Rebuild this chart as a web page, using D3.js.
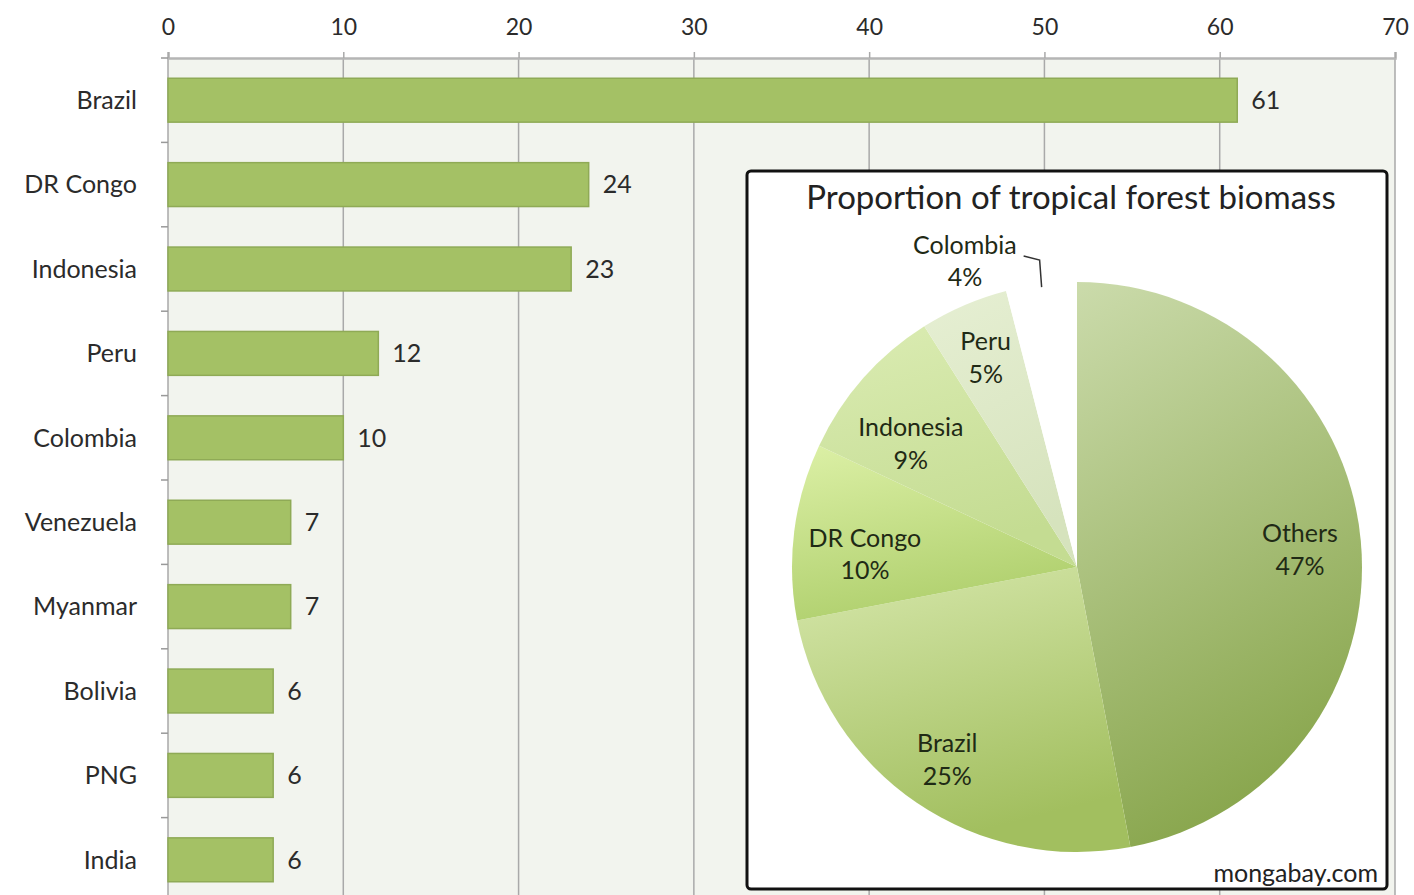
<!DOCTYPE html>
<html>
<head>
<meta charset="utf-8">
<script src="https://cdn.jsdelivr.net/npm/d3@7"></script>
<style>
  body { margin: 0; background: #fff; }
  text { font-family: Lato, "Open Sans", sans-serif; }
</style>
</head>
<body>
<svg id="chart"></svg>
<script>
// Bar data: tropical forest biomass by country
const countries = ['Brazil', 'DR Congo', 'Indonesia', 'Peru', 'Colombia', 'Venezuela', 'Myanmar', 'Bolivia', 'PNG', 'India'];
const biomass = [61, 24, 23, 12, 10, 7, 7, 6, 6, 6];
const xTicks = [0, 10, 20, 30, 40, 50, 60, 70];

// Pie data: share of tropical forest biomass
const pieLabels = ['Others', 'Brazil', 'DR Congo', 'Indonesia', 'Peru', 'Colombia'];
const pieShares = [47, 25, 10, 9, 5, 4];
const pieTitle = 'Proportion of tropical forest biomass';

const width = 1414, height = 895;
const svg = d3.select('#chart').attr('width', width).attr('height', height);

const x = d3.scaleLinear().domain([0, 70]).range([168, 1395]);
const y = d3.scaleBand().domain(countries).range([58, 902])
  .paddingInner(0.48).paddingOuter(0.24);

// plot background
svg.append('rect')
  .attr('x', x(0)).attr('y', 58)
  .attr('width', x(70) - x(0)).attr('height', height - 58)
  .attr('fill', '#f2f4ee');

// gridlines
svg.selectAll('.grid')
  .data(xTicks)
  .enter()
  .append('line')
  .attr('x1', d => x(d)).attr('x2', d => x(d))
  .attr('y1', 58).attr('y2', height)
  .attr('stroke', '#a9a9a9')
  .attr('stroke-width', 1.5);

// top axis
const xAxis = svg.append('g')
  .attr('transform', 'translate(0,58)')
  .call(d3.axisTop(x).tickValues(xTicks).tickSize(6).tickPadding(17));
xAxis.select('.domain').attr('stroke', '#b5b5b5').attr('stroke-width', 2.5);
xAxis.selectAll('.tick line').attr('stroke', '#a9a9a9').attr('stroke-width', 1.5);
xAxis.selectAll('.tick text').attr('fill', '#2b2b2b').style('font-size', '23px');

// category ticks at band boundaries
const half = y.step() * y.paddingInner() / 2;
svg.selectAll('.ytick')
  .data(countries)
  .enter()
  .append('line')
  .attr('x1', x(0) - 7).attr('x2', x(0))
  .attr('y1', d => y(d) - half).attr('y2', d => y(d) - half)
  .attr('stroke', '#999')
  .attr('stroke-width', 1.5);

// bars
svg.selectAll('.bar')
  .data(countries)
  .enter()
  .append('rect')
  .attr('x', x(0))
  .attr('y', d => y(d))
  .attr('width', (d, i) => x(biomass[i]) - x(0))
  .attr('height', y.bandwidth())
  .attr('fill', '#a4c165')
  .attr('stroke', '#8faa56')
  .attr('stroke-width', 1.5);

// category labels
svg.selectAll('.cat')
  .data(countries)
  .enter()
  .append('text')
  .attr('x', 137)
  .attr('y', d => y(d) + y.bandwidth() / 2)
  .attr('dy', '0.35em')
  .attr('text-anchor', 'end')
  .attr('fill', '#2b2b2b')
  .style('font-size', '25px')
  .text(d => d);

// value labels
svg.selectAll('.val')
  .data(countries)
  .enter()
  .append('text')
  .attr('x', (d, i) => x(biomass[i]) + 14)
  .attr('y', d => y(d) + y.bandwidth() / 2)
  .attr('dy', '0.35em')
  .attr('fill', '#2b2b2b')
  .style('font-size', '25px')
  .text((d, i) => biomass[i]);

// inset box
svg.append('rect')
  .attr('x', 747).attr('y', 171)
  .attr('width', 640).attr('height', 718)
  .attr('rx', 4)
  .attr('fill', '#fff')
  .attr('stroke', '#111')
  .attr('stroke-width', 3);

svg.append('text')
  .attr('x', 1071).attr('y', 209)
  .attr('text-anchor', 'middle')
  .attr('fill', '#222')
  .style('font-size', '33px')
  .text(pieTitle);

svg.append('text')
  .attr('x', 1378).attr('y', 882)
  .attr('text-anchor', 'end')
  .attr('fill', '#222')
  .style('font-size', '25px')
  .text('mongabay.com');

// pie
const cx = 1077, cy = 567, r = 285;
const gradColors = [
  ['#cbdbab', '#8aa74f'],
  ['#d6e7ab', '#a2bf5f'],
  ['#dcf0a6', '#b0d06e'],
  ['#dbecb3', '#c4dc92'],
  ['#e6efd3', '#d6e3bd'],
  ['#ffffff', '#ffffff']
];
const defs = svg.append('defs');
gradColors.forEach((c, i) => {
  const g = defs.append('linearGradient')
    .attr('id', 'pg' + i)
    .attr('x1', 0).attr('y1', 0).attr('x2', 0.3).attr('y2', 1);
  g.append('stop').attr('offset', '0%').attr('stop-color', c[0]);
  g.append('stop').attr('offset', '100%').attr('stop-color', c[1]);
});

const pie = d3.pie().sort(null).value(d => d);
const arcs = pie(pieShares);
const arc = d3.arc().innerRadius(0).outerRadius(r);

const pg = svg.append('g').attr('transform', `translate(${cx},${cy})`);
pg.selectAll('path')
  .data(arcs)
  .enter()
  .append('path')
  .attr('d', arc)
  .attr('fill', (d, i) => `url(#pg${i})`);

// pie label placement: radius fraction and angle nudge (degrees) per slice
const labelRadius = [0.785, 0.81, 0.746, 0.73, 0.807, 1.15];
const labelNudge = [0.5, 0, -3.2, -4.4, 0, -12.8];
pg.selectAll('.plabel')
  .data(arcs)
  .enter()
  .append('text')
  .attr('transform', (d, i) => {
    const a = (d.startAngle + d.endAngle) / 2 + labelNudge[i] * Math.PI / 180;
    const rr = r * labelRadius[i];
    return `translate(${Math.sin(a) * rr},${-Math.cos(a) * rr})`;
  })
  .attr('text-anchor', 'middle')
  .attr('fill', '#1f2a15')
  .style('font-size', '25px')
  .each(function(d, i) {
    const t = d3.select(this);
    t.append('tspan').attr('x', 0).attr('dy', '-0.22em').text(pieLabels[i]);
    t.append('tspan').attr('x', 0).attr('dy', '1.3em').text(pieShares[i] + '%');
  });

// leader line for Colombia
const colA = (arcs[5].startAngle + arcs[5].endAngle) / 2;
const p0 = [Math.sin(colA) * r * 0.99, -Math.cos(colA) * r * 0.99];
pg.append('path')
  .attr('d', `M${p0[0]},${p0[1]} L${p0[0] - 2},${p0[1] - 27} L${p0[0] - 18},${p0[1] - 31}`)
  .attr('fill', 'none')
  .attr('stroke', '#333')
  .attr('stroke-width', 1.5);
</script>
</body>
</html>
